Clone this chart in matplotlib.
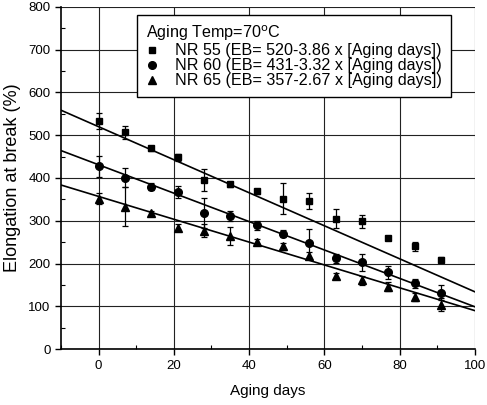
import numpy as np
import matplotlib
matplotlib.use("Agg")
import matplotlib.pyplot as plt
from matplotlib.ticker import MultipleLocator

plt.rcParams['font.family'] = ['Liberation Sans', 'DejaVu Sans']

days = [0, 7, 14, 21, 28, 35, 42, 49, 56, 63, 70, 77, 84, 91]
nr55 = [533, 507, 469, 448, 395, 385, 369, 352, 347, 305, 299, 259, 240, 209]
nr55_err = [18, 15, 6, 8, 26, 6, 6, 36, 19, 22, 15, 5, 10, 6]
nr60 = [427, 401, 380, 368, 318, 311, 289, 270, 247, 212, 203, 180, 154, 132]
nr60_err = [24, 23, 8, 14, 36, 12, 10, 8, 33, 10, 20, 15, 10, 17]
nr65 = [352, 333, 318, 284, 277, 264, 251, 240, 218, 171, 161, 146, 122, 104]
nr65_err = [12, 45, 6, 8, 15, 21, 6, 8, 8, 8, 10, 10, 10, 16]

intercepts = [520, 431, 357]
slopes = [-3.86, -3.32, -2.67]
labels = ['NR 55 (EB= 520-3.86 x [Aging days])',
          'NR 60 (EB= 431-3.32 x [Aging days])',
          'NR 65 (EB= 357-2.67 x [Aging days])']
markers = ['s', 'o', '^']

fig = plt.figure(figsize=(4.87, 4.05), dpi=100)
ax = fig.add_axes([0.125, 0.138, 0.85, 0.845])

xfit = np.array([-10, 100])
handles = []
for ys, es, b, m, mk, lab in zip([nr55, nr60, nr65], [nr55_err, nr60_err, nr65_err],
                                 intercepts, slopes, markers, labels):
    ms = 5.5 if mk != 's' else 5
    ax.errorbar(days, ys, yerr=es, fmt=mk, color='black', ms=ms,
                ecolor='black', elinewidth=0.9, capsize=2.5, capthick=0.9, label=lab, zorder=3)
    ax.plot(xfit, b + m * xfit, color='black', lw=1.2, zorder=2)
    handles.append(ax.plot([], [], mk, color='black', ms=ms)[0])

ax.set_xlim(-10, 100)
ax.set_ylim(0, 800)
ax.xaxis.set_major_locator(MultipleLocator(20))
ax.xaxis.set_minor_locator(MultipleLocator(10))
ax.yaxis.set_major_locator(MultipleLocator(100))
ax.yaxis.set_minor_locator(MultipleLocator(50))
ax.grid(True, which='major', color='#222222', lw=0.8, zorder=0)
ax.tick_params(which='major', direction='out', length=4, width=1, labelsize=9.5)
ax.tick_params(which='minor', direction='in', length=3, width=0.8)
for s in ax.spines.values():
    s.set_linewidth(1.2)
ax.spines['top'].set_visible(False)
ax.spines['right'].set_visible(False)

ax.set_xlabel('Aging days', fontsize=11, labelpad=9)
ax.set_ylabel('Elongation at break (%)', fontsize=13, labelpad=5)

leg = ax.legend(handles, labels, title='Aging Temp=70$^{\\rm o}$C', loc='upper left',
                bbox_to_anchor=(0.184, 0.977), borderaxespad=0, fontsize=11.6, title_fontsize=11.6,
                frameon=True, fancybox=False, edgecolor='black', framealpha=1,
                handlelength=0.8, handletextpad=1.0, labelspacing=0.0,
                borderpad=0.55, alignment='left')
leg.get_frame().set_linewidth(1.0)
leg.set_zorder(5)

fig.savefig('out.png', dpi=100)
